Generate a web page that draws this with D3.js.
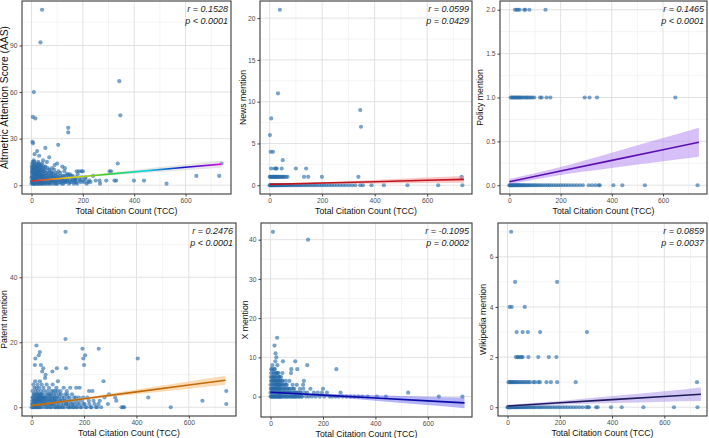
<!DOCTYPE html>
<html>
<head>
<meta charset="utf-8">
<script src="https://cdn.jsdelivr.net/npm/d3@7"></script>
<style>
  body { margin: 0; background: #fff; }
  svg { display: block; font-family: "Liberation Sans", Arial, sans-serif; }
</style>
</head>
<body>
<script>
// ---- data ----
const tccTicks = [0, 200, 400, 600];
const bandTcc = [0, 200, 400, 600, 740];

// Altmetric Attention Score vs TCC
const aasPoints = [
  [41,113],[35,92],[9,60],[5,44],[15,43],[342,67],[346,45],[143,37],[143,34],[104,26],[4,28],[6,27],
  [54,24],[22,22],[69,18],[336,14],[304,9],[310,9],[185,9],[195,9],[200,9],[176,9],[323,3],[330,3],
  [399,3],[438,3],[526,1],[642,6],[731,6],[740,14],[250,3],[265,3],[291,3],[267,1],[160,5],[170,3],
  [210,4],[225,3],[240,6],[120,12],[130,11],[100,14],[90,13],[150,7],[45,16],[30,19],[12,20],[60,15],[80,11],
  [0,1],[1,3],[2,6],[2,10],[3,2],[3,14],[4,5],[5,8],[6,1],[6,12],[7,4],[8,7],[9,2],[9,16],[10,10],[11,5],
  [12,1],[12,13],[13,8],[14,3],[15,6],[15,11],[16,2],[17,9],[18,4],[18,14],[19,7],[20,1],[21,5],[21,12],
  [22,3],[23,8],[24,10],[25,2],[25,6],[26,15],[27,4],[28,9],[29,1],[30,7],[30,13],[31,3],[32,11],[33,5],
  [34,2],[35,8],[36,12],[37,4],[38,1],[39,6],[40,10],[41,3],[42,14],[43,7],[44,2],[45,5],[46,9],[47,1],
  [48,12],[49,4],[50,7],[52,3],[53,10],[55,1],[56,6],[58,8],[59,2],[61,5],[63,11],[65,3],[67,7],[68,1],
  [70,4],[72,9],[74,2],[76,6],[78,3],[80,8],[82,1],[84,5],[86,3],[88,10],[90,2],[92,6],[95,4],[97,1],
  [100,7],[103,3],[106,5],[109,2],[112,8],[115,4],[118,1],[122,6],[125,3],[128,9],[131,2],[135,5],[138,3],
  [142,7],[146,1],[150,4],[155,2],[160,6],[165,1],[170,4],[175,2],[180,7],[188,3],[195,5],[205,2],[215,1],[230,2],
  [0,5],[1,8],[1,12],[2,2],[3,9],[4,11],[5,3],[5,15],[7,10],[8,1],[8,13],[10,3],[10,7],[11,15],[13,1],[14,11],
  [16,7],[17,4],[19,12],[20,9],[22,6],[23,13],[24,1],[26,8],[27,11],[28,3],[29,14],[31,9],[32,6],[33,1],[34,10],
  [36,5],[37,13],[39,2],[40,8],[42,6],[43,1],[45,11],[47,4],[49,9],[51,2],[52,6],[54,12],[57,4],[60,1],[62,8],
  [64,5],[66,2],[69,10],[71,6],[73,1],[75,4],[77,8],[79,5],[83,3],[85,7],[89,5],[91,1],[94,8],[96,3],[99,5],
  [102,1],[105,9],[108,4],[111,6],[114,2],[117,5],[120,3],[124,1],[127,6],[130,4],[134,2],[137,7],[140,3],
  [145,5],[149,2],[153,6],[158,3],[163,4],[168,2],[173,5],[178,1],[185,4],[192,2],[200,3],[210,5],[220,2]
];
const aasTicks = [0, 30, 60, 90];
const aasFit = [2.7, 5.65, 8.6, 11.55, 13.6];
const aasLo = [2.27, 5.0, 7.33, 9.63, 11.2];
const aasHi = [3.13, 6.3, 9.87, 13.47, 16.0];

// News mention vs TCC
const newsPoints = [
  [39,21],[32,11],[345,9],[348,7],[6,8],[1,6],[4,4],[13,4],[50,3],
  [6,2],[19,2],[24,2],[27,2],[46,2],[100,2],[139,2],
  [0,1],[3,1],[6,1],[9,1],[12,1],[15,1],[18,1],[21,1],[24,1],[27,1],[30,1],[33,1],[36,1],[40,1],[44,1],
  [48,1],[52,1],[56,1],[62,1],[68,1],[131,1],[147,1],[199,1],[338,1],[731,1]
];
const newsZeroTcc = [0,2,4,6,8,10,12,14,16,18,20,22,25,28,31,34,37,40,43,46,50,54,58,62,66,70,75,80,85,90,
  96,102,108,114,120,127,134,141,148,156,164,172,180,189,198,207,216,226,236,246,257,268,279,290,302,314,326,
  345,355,388,435,525,642,734];
const newsTicks = [0, 5, 10, 15, 20];
const newsFit = [0.1, 0.26, 0.42, 0.59, 0.7];
const newsLo = [0.03, 0.15, 0.21, 0.27, 0.3];
const newsHi = [0.17, 0.37, 0.63, 0.91, 1.1];

// Policy mention vs TCC
const policyPoints = [
  [22,2],[28,2],[34,2],[40,2],[58,2],[62,2],[78,2],[141,2],
  [5,1],[9,1],[13,1],[17,1],[21,1],[25,1],[29,1],[33,1],[37,1],[41,1],[45,1],[50,1],[56,1],[62,1],[67,1],
  [72,1],[78,1],[84,1],[90,1],[97,1],[120,1],[126,1],[145,1],[160,1],[294,1],[313,1],[342,1],[648,1]
];
const policyZeroTcc = [0,2,4,6,8,10,12,14,16,19,22,25,28,31,34,37,40,44,48,52,56,60,65,70,75,80,86,92,98,
  104,111,118,125,132,140,148,156,164,173,182,191,200,210,220,230,241,252,263,275,287,
  310,323,336,349,353,406,441,529,735];
const policyTicks = [0, 0.5, 1, 1.5, 2];
const policyFit = [0.04, 0.162, 0.283, 0.405, 0.49];
const policyLo = [0.01, 0.117, 0.196, 0.273, 0.325];
const policyHi = [0.07, 0.207, 0.37, 0.537, 0.655];

// Patent mention vs TCC
const patentPoints = [
  [129,54],[129,21],[18,19],[194,18],[256,18],[204,16],[31,17],[27,16],[405,15],[14,15],[197,15],[12,13],
  [200,13],[35,13],[131,12],[96,12],[79,11],[44,12],[40,11],[53,10],[51,9],[274,8],[445,3],[323,2],[319,3],
  [343,0],[349,0],[353,0],[531,0],[652,2],[743,5],[743,1],[219,5],[232,5],[183,6],[170,6],[295,4],[278,3],[291,1],
  [0,0],[2,2],[3,5],[4,1],[5,3],[6,7],[7,0],[8,4],[9,2],[10,6],[11,1],[12,3],[13,8],[14,0],[15,5],[16,2],
  [17,4],[18,1],[19,6],[20,3],[21,0],[22,7],[23,2],[24,5],[25,1],[26,4],[27,0],[28,3],[29,6],[30,2],[31,8],
  [32,1],[33,4],[34,0],[35,3],[36,5],[37,2],[38,7],[39,1],[40,4],[42,0],[43,3],[45,6],[46,2],[48,5],[49,1],
  [51,3],[52,0],[54,4],[56,2],[57,7],[59,1],[61,5],[62,3],[64,0],[66,6],[67,2],[69,4],[71,1],[73,3],[75,5],
  [76,0],[78,2],[80,7],[82,1],[84,4],[86,3],[88,0],[90,5],[92,2],[94,6],[96,1],[98,3],[100,8],[103,0],[105,4],
  [108,2],[110,5],[113,1],[116,3],[119,0],[122,6],[125,2],[128,4],[131,1],[134,5],[137,3],[140,0],[143,2],
  [147,6],[150,1],[154,4],[158,0],[162,3],[166,2],[170,0],[175,1],[180,3],[186,0],[192,2],[198,1],[205,0],
  [212,3],[220,1],[228,0],[236,2],[245,0],[255,1],[265,0],
  [1,1],[3,3],[5,0],[7,2],[9,4],[11,0],[13,2],[15,1],[17,3],[19,0],[21,2],[23,4],[25,3],[27,2],[29,0],[31,3],
  [33,2],[35,1],[37,4],[39,3],[41,2],[44,1],[47,3],[50,2],[53,1],[55,3],[58,0],[60,2],[63,4],[65,1],[68,3],
  [70,2],[72,0],[74,4],[77,1],[79,3],[81,2],[83,5],[85,1],[87,2],[89,3],[91,0],[93,4],[95,2],[97,0],[99,5],
  [102,1],[104,3],[107,0],[109,2],[112,4],[115,0],[118,2],[121,1],[124,3],[127,0],[130,2],[133,1],[136,4],
  [139,1],[142,0],[145,3],[149,0],[152,2],[156,1],[160,0],[164,1],[168,3],[173,0],[178,2],[183,1],[190,0],
  [196,3],[202,1],[210,0],[218,2],[225,0],[240,1],[250,0],[260,2]
];
const patentTicks = [0, 20, 40];
const patentFit = [0.5, 2.61, 4.72, 6.82, 8.3];
const patentLo = [0.25, 2.23, 3.98, 5.7, 6.9];
const patentHi = [0.75, 2.99, 5.46, 7.94, 9.7];

// X mention vs TCC
const xPoints = [
  [9,42],[143,40],[25,15],[15,13],[19,11],[22,10],[47,9],[94,9],[140,8],[251,7],[102,7],[79,7],[78,6],[45,6],
  [127,4],[124,3],[200,2],[267,1],[525,1],[642,0],[732,0],
  [0,0],[1,2],[2,4],[3,7],[4,1],[5,3],[6,5],[7,8],[8,0],[9,2],[10,6],[11,4],[12,1],[13,3],[14,7],[15,0],
  [16,5],[17,2],[18,9],[19,4],[20,1],[21,6],[22,3],[23,0],[24,5],[25,2],[26,8],[27,4],[28,1],[29,3],[30,6],
  [31,0],[32,2],[33,5],[34,1],[35,4],[36,3],[37,0],[38,2],[40,5],[41,1],[43,3],[44,0],[46,4],[48,2],[50,1],
  [52,3],[54,0],[56,2],[58,4],[60,1],[62,3],[64,0],[67,2],[70,1],[72,4],[75,0],[78,2],[81,1],[84,3],[87,0],
  [90,2],[93,1],[96,0],[100,3],[104,1],[108,0],[112,2],[116,1],[120,0],[125,2],[130,1],[135,0],[140,1],[146,0],
  [152,2],[158,0],[165,1],[172,0],[180,1],[188,0],[196,1],[205,0],[215,1],[225,0],[235,0],[248,0],[260,0],
  [275,0],[290,0],[305,0],[320,0],[335,0],[350,0],[370,0],[405,0],[440,0],
  [0,1],[0,3],[1,5],[2,0],[2,6],[3,2],[4,4],[5,0],[5,7],[6,2],[7,1],[8,5],[9,3],[10,0],[10,4],[11,2],[12,6],
  [13,0],[13,5],[14,2],[15,4],[16,1],[16,7],[17,3],[18,0],[18,5],[19,2],[20,4],[21,0],[21,3],[22,6],[23,2],
  [24,1],[25,4],[26,0],[26,3],[27,6],[28,2],[29,5],[30,0],[30,3],[31,4],[32,1],[33,0],[33,3],[34,5],[35,2],
  [36,0],[37,4],[38,1],[39,3],[40,0],[42,2],[44,4],[45,1],[47,0],[49,3],[51,1],[53,2],[55,0],[57,1],[59,3],
  [61,0],[63,2],[66,1],[69,0],[71,2],[74,1],[77,0],[80,1],[83,0],[86,2],[89,0],[92,1],[95,0],[98,1],[102,0],
  [106,1],[110,0],[114,1],[118,0]
];
const xTicks = [0, 10, 20, 30, 40];
const xFit = [1.1, 0.37, -0.36, -1.09, -1.6];
const xLo = [0.87, 0.01, -1.08, -2.17, -2.95];
const xHi = [1.33, 0.73, 0.36, -0.01, -0.25];

// Wikipedia mention vs TCC
const wikiPoints = [
  [14,7],[29,5],[190,5],[8,4],[16,4],[66,4],[35,3],[58,3],[78,3],[125,3],[304,3],
  [32,2],[38,2],[42,2],[48,2],[54,2],[58,2],[80,2],[118,2],[158,2],[187,2],
  [4,1],[8,1],[12,1],[16,1],[20,1],[24,1],[28,1],[33,1],[38,1],[43,1],[49,1],[55,1],[61,1],[67,1],[74,1],
  [80,1],[86,1],[99,1],[105,1],[118,1],[124,1],[149,1],[166,1],[190,1],[261,1],[725,1]
];
const wikiZeroTcc = [0,2,4,6,8,10,12,14,16,19,22,25,28,31,34,37,40,44,48,52,56,60,65,70,75,80,86,92,98,
  104,111,118,125,132,140,148,156,164,173,182,191,200,210,220,230,241,252,263,275,287,
  301,308,312,339,345,396,437,520,637,727];
const wikiTicks = [0, 2, 4, 6];
const wikiFit = [0.05, 0.177, 0.304, 0.431, 0.52];
const wikiLo = [0.0, 0.107, 0.164, 0.221, 0.25];
const wikiHi = [0.1, 0.247, 0.444, 0.641, 0.79];

const rLabels = ["r = 0.1528", "r = 0.0599", "r = 0.1465", "r = 0.2476", "r = -0.1095", "r = 0.0859"];
const pLabels = ["p < 0.0001", "p = 0.0429", "p < 0.0001", "p < 0.0001", "p = 0.0002", "p = 0.0037"];
const yTitles = ["Altmetric Attention Score (AAS)", "News mention", "Policy mention",
                 "Patent mention", "X mention", "Wikipedia mention"];

// ---- layout ----
const W = 709, H = 438;
const panels = [
  {pts: aasPoints, ticks: aasTicks, fit: aasFit, lo: aasLo, hi: aasHi, fmt: d3.format("d"),
   box: [22, 1, 231, 194], titleX: 5, titleSize: 10.3, line: "url(#rainbow)", band: "#c8c8c8", bandOp: 0.45},
  {pts: newsPoints.concat(newsZeroTcc.map(t => [t, 0])), ticks: newsTicks, fit: newsFit, lo: newsLo, hi: newsHi,
   fmt: d3.format("d"), box: [260, 1, 472, 194], titleX: 243, titleSize: 8.7, line: "#c0141c", band: "#f08080", bandOp: 0.45},
  {pts: policyPoints.concat(policyZeroTcc.map(t => [t, 0])), ticks: policyTicks, fit: policyFit, lo: policyLo, hi: policyHi,
   fmt: d3.format(".1f"), box: [500, 1, 707, 194], titleX: 480, titleSize: 8.7, line: "#5b0fb0", band: "#b07ff0", bandOp: 0.5},
  {pts: patentPoints, ticks: patentTicks, fit: patentFit, lo: patentLo, hi: patentHi, fmt: d3.format("d"),
   box: [22, 223, 236, 416], titleX: 4, titleSize: 8.7, line: "#c06a0c", band: "#f7b867", bandOp: 0.5},
  {pts: xPoints, ticks: xTicks, fit: xFit, lo: xLo, hi: xHi, fmt: d3.format("d"),
   box: [261, 223, 472, 417], titleX: 245, titleSize: 8.7, line: "#0a0aa8", band: "#6a6af0", bandOp: 0.5},
  {pts: wikiPoints.concat(wikiZeroTcc.map(t => [t, 0])), ticks: wikiTicks, fit: wikiFit, lo: wikiLo, hi: wikiHi,
   fmt: d3.format("d"), box: [498, 223, 707, 416], titleX: 483, titleSize: 8.7, line: "#1f1a5a", band: "#a890e8", bandOp: 0.5}
];

const svg = d3.select("body").append("svg").attr("width", W).attr("height", H);

// rainbow gradient for the AAS fit line
const grad = svg.append("defs").append("linearGradient")
  .attr("id", "rainbow").attr("gradientUnits", "userSpaceOnUse");
["#e3191c", "#f0d000", "#2fd12f", "#10d8e0", "#1010c8", "#e010e0"].forEach((c, i, a) => {
  grad.append("stop").attr("offset", i / (a.length - 1)).attr("stop-color", c);
});

function expand(lo, hi) {
  const pad = (hi - lo) * 0.05;
  return [lo - pad, hi + pad];
}
function minors(ticks, dom) {
  const step = ticks[1] - ticks[0];
  const m = [ticks[0] - step / 2].concat(ticks.map(t => t + step / 2));
  return m.filter(v => v > dom[0] && v < dom[1]);
}

panels.forEach((p, i) => {
  const [l, t, r, b] = p.box;
  const g = svg.append("g");

  const xMax = d3.max(p.pts, d => d[0]);
  const x = d3.scaleLinear().domain(expand(0, xMax)).range([l, r]);
  const yLo = Math.min(0, d3.min(p.lo)), yHi = Math.max(d3.max(p.pts, d => d[1]), d3.max(p.hi));
  const y = d3.scaleLinear().domain(expand(yLo, yHi)).range([b, t]);

  // grid
  const gx = g.append("g");
  minors(tccTicks, x.domain()).forEach(v => gx.append("line").attr("x1", x(v)).attr("x2", x(v))
    .attr("y1", t).attr("y2", b).attr("stroke", "#ececec").attr("stroke-width", 0.6));
  minors(p.ticks, y.domain()).forEach(v => gx.append("line").attr("y1", y(v)).attr("y2", y(v))
    .attr("x1", l).attr("x2", r).attr("stroke", "#ececec").attr("stroke-width", 0.6));
  tccTicks.forEach(v => gx.append("line").attr("x1", x(v)).attr("x2", x(v))
    .attr("y1", t).attr("y2", b).attr("stroke", "#e2e2e2").attr("stroke-width", 1));
  p.ticks.forEach(v => gx.append("line").attr("y1", y(v)).attr("y2", y(v))
    .attr("x1", l).attr("x2", r).attr("stroke", "#e2e2e2").attr("stroke-width", 1));

  // points
  g.append("g").selectAll("circle").data(p.pts).enter().append("circle")
    .attr("cx", d => x(d[0])).attr("cy", d => y(d[1])).attr("r", 2.1)
    .attr("fill", "#276aa8").attr("fill-opacity", 0.62);

  // confidence band + fit
  const band = bandTcc.map((v, k) => ({tcc: v, fit: p.fit[k], lo: p.lo[k], hi: p.hi[k]}));
  g.append("path").datum(band)
    .attr("d", d3.area().x(d => x(d.tcc)).y0(d => y(d.lo)).y1(d => y(d.hi)).curve(d3.curveMonotoneX))
    .attr("fill", p.band).attr("fill-opacity", p.bandOp);
  if (i === 0) grad.attr("x1", x(0)).attr("x2", x(740)).attr("y1", 0).attr("y2", 0);
  g.append("path").datum(band)
    .attr("d", d3.line().x(d => x(d.tcc)).y(d => y(d.fit)))
    .attr("fill", "none").attr("stroke", p.line).attr("stroke-width", 1.6);

  // axes
  const ax = g.append("g").attr("transform", `translate(0,${b})`)
    .call(d3.axisBottom(x).tickValues(tccTicks).tickSize(2.5).tickPadding(2));
  const ay = g.append("g").attr("transform", `translate(${l},0)`)
    .call(d3.axisLeft(y).tickValues(p.ticks).tickFormat(p.fmt).tickSize(2.5).tickPadding(2));
  [ax, ay].forEach(a => {
    a.select(".domain").remove();
    a.selectAll("line").attr("stroke", "#444");
    a.selectAll("text").attr("fill", "#4d4d4d").attr("font-size", "6.7px")
      .attr("font-family", "Liberation Sans, Arial, sans-serif");
  });

  // panel border
  g.append("rect").attr("x", l).attr("y", t).attr("width", r - l).attr("height", b - t)
    .attr("fill", "none").attr("stroke", "#3a3a3a").attr("stroke-width", 1.1);

  // titles
  g.append("text").attr("x", (l + r) / 2).attr("y", b + 20).attr("text-anchor", "middle")
    .attr("font-size", "8.7px").attr("fill", "#111").text("Total Citation Count (TCC)");
  g.append("text").attr("transform", `translate(${p.titleX + 3},${(t + b) / 2}) rotate(-90)`)
    .attr("text-anchor", "middle").attr("font-size", p.titleSize + "px").attr("fill", "#111").text(yTitles[i]);

  // correlation labels
  g.append("text").attr("x", r - 3).attr("y", t + 10.5).attr("text-anchor", "end")
    .attr("font-size", "9px").attr("font-style", "italic").attr("fill", "#222").text(rLabels[i]);
  g.append("text").attr("x", r - 3).attr("y", t + 23).attr("text-anchor", "end")
    .attr("font-size", "9px").attr("font-style", "italic").attr("fill", "#222").text(pLabels[i]);
});
</script>
</body>
</html>
